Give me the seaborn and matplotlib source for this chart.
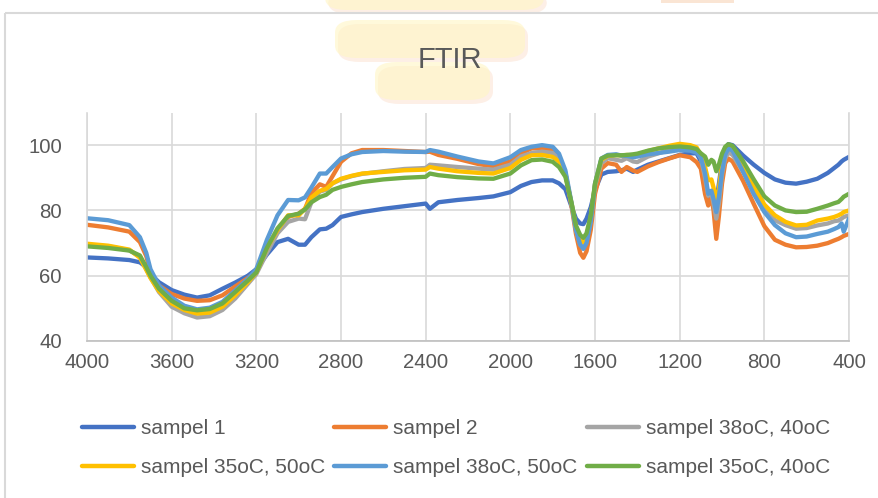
import pandas as pd
import numpy as np
import matplotlib.pyplot as plt
import seaborn as sns
from matplotlib.patches import Rectangle, FancyBboxPatch

# wavenumber grid (cm-1)
wn = [4000, 3900, 3800, 3750, 3720, 3700, 3660, 3600, 3540, 3480,
      3420, 3360, 3300, 3240, 3200, 3150, 3100, 3050, 3000, 2970,
      2940, 2900, 2870, 2840, 2800, 2750, 2700, 2600, 2500, 2400,
      2380, 2340, 2250, 2150, 2080, 2000, 1950, 1900, 1850, 1800,
      1770, 1740, 1710, 1690, 1670, 1655, 1640, 1620, 1600, 1570,
      1540, 1500, 1475, 1450, 1420, 1400, 1350, 1300, 1250, 1200,
      1150, 1120, 1100, 1080, 1065, 1050, 1040, 1027, 1015, 1000,
      985, 970, 950, 900, 850, 800, 750, 700, 650, 600,
      550, 500, 470, 450, 435, 425, 400]

sampel_1 = [65.6, 65.3, 64.8, 64.1, 62.6, 60.5, 58.0, 55.6, 54.2, 53.3,
            54.0, 56.0, 57.9, 60.0, 62.0, 66.5, 70.3, 71.3, 69.5, 69.5,
            71.8, 74.2, 74.4, 75.5, 78.0, 78.8, 79.5, 80.5, 81.3, 82.1,
            80.5, 82.5, 83.2, 83.8, 84.3, 85.6, 87.5, 88.7, 89.2, 89.2,
            88.3, 86.5, 81.0, 77.5, 76.0, 75.8, 77.5, 81.0, 86.2, 91.0,
            91.8, 92.0, 92.3, 92.8, 91.8, 92.5, 94.0, 95.0, 96.0, 97.0,
            97.5, 97.5, 95.0, 86.0, 84.2, 86.0, 85.0, 82.6, 88.0, 95.0,
            99.0, 100.3, 100.0, 96.8, 94.0, 91.5, 89.5, 88.5, 88.2, 88.8,
            89.7, 91.5, 93.0, 94.0, 95.0, 95.5, 96.4]

sampel_2 = [75.6, 74.8, 73.5, 70.3, 66.0, 61.0, 57.0, 54.4, 53.0, 52.3,
            52.5, 54.0, 56.7, 59.3, 61.3, 67.5, 73.5, 78.0, 79.0, 80.5,
            85.3, 88.0, 87.2, 90.5, 94.9, 97.5, 98.5, 98.5, 98.2, 97.9,
            98.0, 97.0, 95.8, 94.2, 93.5, 95.0, 97.5, 99.0, 99.0, 98.5,
            96.5, 91.5, 81.0, 72.8, 67.0, 65.5, 67.5, 74.0, 85.1, 92.8,
            94.5, 94.0, 91.8, 93.3, 92.2, 91.8, 93.5, 94.8, 95.9, 96.9,
            96.3, 94.8, 92.8, 85.0, 81.5, 84.0, 80.0, 71.3, 78.0, 88.2,
            94.5, 95.9, 95.0, 89.0, 82.0, 75.2, 71.0, 69.5, 68.7, 68.8,
            69.2, 70.0, 70.8, 71.3, 71.8, 72.2, 72.8]

sampel_38_40 = [69.5, 69.0, 67.8, 65.8, 62.0, 59.5, 55.0, 50.5, 48.5, 47.2,
                47.6, 49.5, 53.0, 57.5, 60.5, 67.0, 73.0, 76.5, 77.5, 77.3,
                82.5, 85.8, 86.3, 88.3, 89.5, 90.5, 91.2, 92.0, 92.7, 93.0,
                94.0, 93.8, 93.3, 92.8, 92.5, 94.0, 96.5, 97.6, 98.0, 97.6,
                96.0, 91.5, 81.5, 74.0, 69.5, 68.7, 70.5, 77.0, 87.5, 94.5,
                96.0, 95.5, 95.2, 96.0, 95.0, 94.8, 96.5, 97.5, 98.5, 99.0,
                98.8, 98.3, 96.0, 90.0, 84.5, 85.5, 82.0, 77.5, 82.0, 91.0,
                96.0, 97.8, 97.0, 91.8, 86.0, 80.5, 77.0, 75.5, 74.4, 74.6,
                75.4, 76.0, 76.7, 76.9, 77.5, 78.0, 78.5]

sampel_35_50 = [69.8, 69.2, 68.0, 65.5, 61.8, 59.3, 55.3, 51.5, 49.5, 48.4,
                48.7, 50.5, 54.0, 58.0, 61.0, 68.5, 74.0, 78.5, 78.5, 80.5,
                84.0, 86.0, 86.6, 88.3, 89.7, 90.6, 91.3, 91.8, 92.3, 92.5,
                93.3, 92.8, 92.0, 91.5, 91.3, 93.0, 95.5, 96.9, 97.0, 96.4,
                95.0, 91.0, 82.0, 75.0, 71.0, 70.3, 72.0, 78.0, 88.0, 95.5,
                96.7, 97.0, 96.8, 97.0, 96.8, 97.0, 98.2, 99.0, 99.8, 100.4,
                100.0, 99.3, 97.0, 93.3, 89.2, 89.5, 87.0, 83.1, 86.5, 94.0,
                98.0, 99.3, 98.5, 93.3, 87.5, 81.8, 78.5, 76.5, 75.4, 75.6,
                76.9, 77.5, 78.0, 78.5, 79.0, 79.5, 80.0]

sampel_38_50 = [77.6, 77.0, 75.5, 71.8, 67.0, 62.0, 57.0, 53.3, 50.8, 49.7,
                50.2, 52.0, 55.5, 59.0, 62.0, 71.0, 78.5, 83.2, 83.1, 84.0,
                87.0, 91.3, 91.3, 93.3, 95.9, 97.2, 97.9, 98.2, 98.0, 97.9,
                98.5, 98.0, 96.5, 95.0, 94.4, 96.3, 98.5, 99.5, 100.0, 99.5,
                97.4, 92.3, 82.0, 74.0, 69.5, 68.2, 70.0, 76.5, 88.2, 95.9,
                97.0, 97.2, 96.8, 96.7, 96.3, 96.5, 97.2, 97.6, 98.0, 98.5,
                98.3, 97.7, 96.4, 91.3, 85.1, 86.0, 83.5, 79.5, 84.0, 92.0,
                97.0, 99.0, 98.3, 91.8, 85.0, 79.5, 75.5, 73.0, 71.8, 72.0,
                72.8, 73.5, 74.3, 74.9, 76.0, 73.5, 77.5]

sampel_35_40 = [69.0, 68.5, 67.7, 66.2, 62.6, 60.0, 56.0, 52.3, 50.0, 49.4,
                49.8, 51.5, 55.0, 58.5, 61.0, 68.5, 74.5, 78.3, 79.0, 80.3,
                82.5, 84.1, 84.8, 86.3, 87.2, 88.0, 88.7, 89.5, 90.0, 90.3,
                91.3, 90.8, 90.2, 89.8, 89.7, 91.3, 93.8, 95.4, 95.6, 94.9,
                93.3, 90.3, 82.0, 75.4, 72.5, 71.6, 73.0, 78.5, 88.2, 95.9,
                96.8, 96.9, 96.9, 97.0, 97.2, 97.4, 98.3, 99.0, 99.4, 99.6,
                99.3, 98.8, 97.5, 96.5, 94.0, 95.5, 95.0, 92.0, 94.0, 97.4,
                99.5, 100.3, 99.8, 95.0, 89.5, 84.3, 81.5, 80.0, 79.5, 79.6,
                80.5, 81.5, 82.2, 82.6, 83.5, 84.2, 85.1]

labels = ["sampel 1", "sampel 2", "sampel 38oC, 40oC",
          "sampel 35oC, 50oC", "sampel 38oC, 50oC", "sampel 35oC, 40oC"]
colors = ["#4472C4", "#ED7D31", "#A5A5A5", "#FFC000", "#5B9BD5", "#70AD47"]
series = [sampel_1, sampel_2, sampel_38_40, sampel_35_50, sampel_38_50, sampel_35_40]

df = pd.DataFrame({
    "wn": wn * len(series),
    "T": sum(series, []),
    "series": np.repeat(labels, len(wn)),
})

sns.set_style("white")
plt.rcParams["font.family"] = ["Liberation Sans", "DejaVu Sans"]
text_color = "#595959"

W, H = 879, 498
fig = plt.figure(figsize=(W / 100, H / 100), dpi=100)


def px(x, y):
    return x / W, 1 - y / H


# outer chart border (cropped on the right and bottom)
fig.add_artist(Rectangle(px(5, 13), 1.2, -1.2, transform=fig.transFigure,
                         fill=False, edgecolor="#D9D9D9", lw=1.5))

# faint colored smudges behind the title
for (x0, y0, x1, y1) in [(325, -12, 544, 10), (335, 20, 525, 58), (375, 62, 490, 100)]:
    for dx, dy, fc, a in [(3, 4, "#F7B890", 0.22), (0, 0, "#FFF6C4", 0.6)]:
        fx, fy = px(x0 + dx, y1 + dy)
        fw = (x1 - x0) / W
        fh = (y1 - y0) / H
        fig.add_artist(FancyBboxPatch((fx, fy), fw, fh, transform=fig.transFigure,
                                      boxstyle="round,pad=0,rounding_size=0.025",
                                      fc=fc, ec="none", alpha=a, zorder=0))
fx, fy = px(661, 3)
fig.add_artist(Rectangle((fx, fy), 73 / W, 3 / H, transform=fig.transFigure,
                         fc="#F6C6A0", ec="none", alpha=0.45))

l, r = px(87, 0)[0], px(849, 0)[0]
b, t = px(0, 341)[1], px(0, 112.5)[1]
ax = fig.add_axes([l, b, r - l, t - b])

sns.lineplot(data=df, x="wn", y="T", hue="series", hue_order=labels,
             palette=colors, estimator=None, sort=False, lw=3.1, ax=ax)

ax.set_xlim(4000, 400)
ax.set_ylim(40, 110)
ax.set_xticks(range(4000, 399, -400))
ax.set_yticks([40, 60, 80, 100])
ax.set_xlabel("")
ax.set_ylabel("")
ax.grid(True, color="#D9D9D9", lw=1.2)
ax.set_axisbelow(True)
for s in ["left", "right"]:
    ax.spines[s].set_color("#D9D9D9")
    ax.spines[s].set_linewidth(1.2)
ax.spines["top"].set_visible(False)
ax.spines["bottom"].set_color("#BFBFBF")
ax.spines["bottom"].set_linewidth(1.2)
ax.tick_params(axis="both", length=0, labelsize=14.7, colors=text_color)
ax.tick_params(axis="x", pad=9)
ax.tick_params(axis="y", pad=18)

fig.text(px(450, 0)[0], px(0, 60)[1], "FTIR", ha="center", va="center",
         fontsize=21, color=text_color)

# legend laid out in rows like the original (matplotlib fills by column)
handles, hl = ax.get_legend_handles_labels()
ax.get_legend().remove()
order = [0, 3, 1, 4, 2, 5]
leg = fig.legend([handles[i] for i in order], [hl[i] for i in order],
                 ncol=3, loc="center", bbox_to_anchor=(px(456, 0)[0], px(0, 448)[1]),
                 frameon=False, fontsize=15, handlelength=2.5, handletextpad=0.34,
                 columnspacing=0.43, labelspacing=0.97, borderpad=0)
for txt in leg.get_texts():
    txt.set_color(text_color)
for ln in leg.get_lines():
    ln.set_linewidth(3.2)

plt.savefig("out.png", dpi=100)
